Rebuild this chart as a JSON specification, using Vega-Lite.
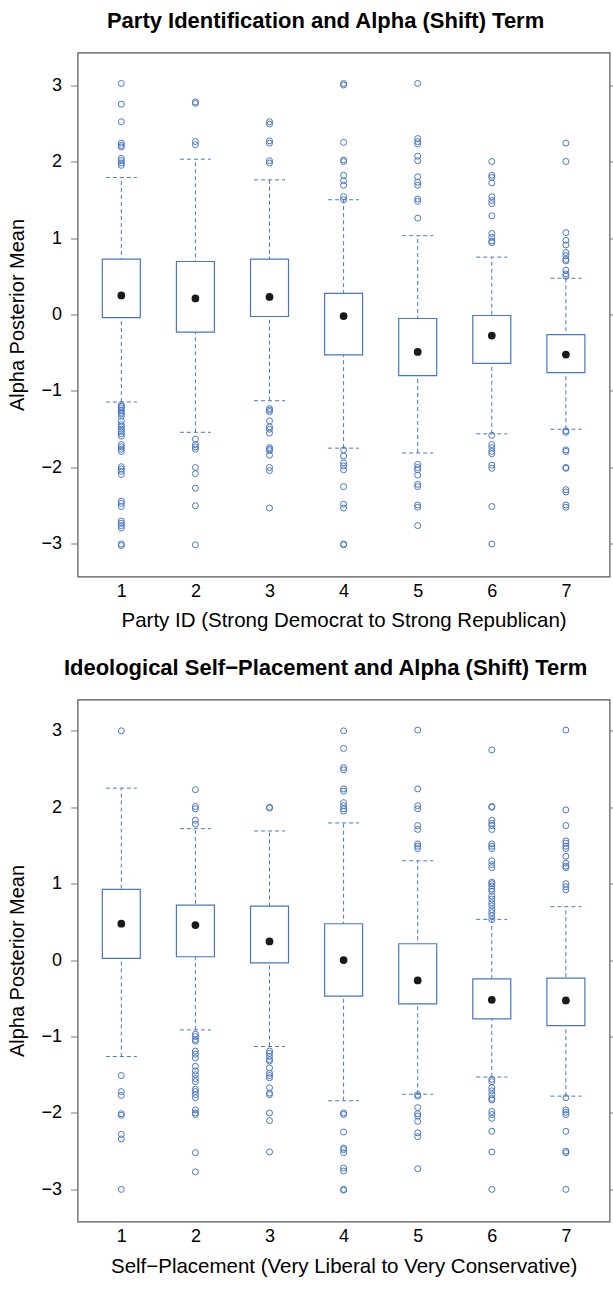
{
  "$schema": "https://vega.github.io/schema/vega-lite/v6.json",
  "padding": {"left": 6.6, "top": 8.5, "right": 0, "bottom": 0},
  "spacing": 24,
  "config": {
    "font": "Liberation Sans",
    "view": {"stroke": "#555555", "strokeWidth": 1.2},
    "axis": {"grid": false, "labelColor": "#000000", "titleColor": "#000000", "titleFontWeight": "normal"}
  },
  "datasets": {
    "party": [
      {"cat": 1, "lo": -1.144, "q1": -0.04, "med": 0.25, "q3": 0.724, "hi": 1.79},
      {"cat": 2, "lo": -1.54, "q1": -0.231, "med": 0.21, "q3": 0.693, "hi": 2.03},
      {"cat": 3, "lo": -1.127, "q1": -0.026, "med": 0.23, "q3": 0.724, "hi": 1.76},
      {"cat": 4, "lo": -1.747, "q1": -0.528, "med": -0.02, "q3": 0.276, "hi": 1.5},
      {"cat": 5, "lo": -1.81, "q1": -0.8, "med": -0.49, "q3": -0.052, "hi": 1.03},
      {"cat": 6, "lo": -1.56, "q1": -0.638, "med": -0.275, "q3": -0.013, "hi": 0.75},
      {"cat": 7, "lo": -1.5, "q1": -0.76, "med": -0.524, "q3": -0.262, "hi": 0.474}
    ],
    "party_out": [
      {"cat": 1, "v": 3.02}, {"cat": 1, "v": 2.75}, {"cat": 1, "v": 2.52}, {"cat": 1, "v": 2.24}, {"cat": 1, "v": 2.21}, {"cat": 1, "v": 2.19}, {"cat": 1, "v": 2.04}, {"cat": 1, "v": 2.01}, {"cat": 1, "v": 1.98}, {"cat": 1, "v": 1.95},
      {"cat": 1, "v": -1.18}, {"cat": 1, "v": -1.2}, {"cat": 1, "v": -1.22}, {"cat": 1, "v": -1.25}, {"cat": 1, "v": -1.28}, {"cat": 1, "v": -1.3}, {"cat": 1, "v": -1.33}, {"cat": 1, "v": -1.39}, {"cat": 1, "v": -1.44}, {"cat": 1, "v": -1.47}, {"cat": 1, "v": -1.5}, {"cat": 1, "v": -1.53}, {"cat": 1, "v": -1.56}, {"cat": 1, "v": -1.59}, {"cat": 1, "v": -1.7}, {"cat": 1, "v": -1.73}, {"cat": 1, "v": -1.76}, {"cat": 1, "v": -1.79}, {"cat": 1, "v": -1.99}, {"cat": 1, "v": -2.02}, {"cat": 1, "v": -2.05}, {"cat": 1, "v": -2.09}, {"cat": 1, "v": -2.44}, {"cat": 1, "v": -2.47}, {"cat": 1, "v": -2.51}, {"cat": 1, "v": -2.7}, {"cat": 1, "v": -2.73}, {"cat": 1, "v": -2.76}, {"cat": 1, "v": -2.79}, {"cat": 1, "v": -3.0}, {"cat": 1, "v": -3.02},
      {"cat": 2, "v": 2.78}, {"cat": 2, "v": 2.76}, {"cat": 2, "v": 2.26}, {"cat": 2, "v": 2.22}, {"cat": 2, "v": -1.63}, {"cat": 2, "v": -1.7}, {"cat": 2, "v": -1.73}, {"cat": 2, "v": -1.76}, {"cat": 2, "v": -2.0}, {"cat": 2, "v": -2.08}, {"cat": 2, "v": -2.27}, {"cat": 2, "v": -2.5}, {"cat": 2, "v": -3.01},
      {"cat": 3, "v": 2.52}, {"cat": 3, "v": 2.49}, {"cat": 3, "v": 2.27}, {"cat": 3, "v": 2.24}, {"cat": 3, "v": 2.01}, {"cat": 3, "v": 1.98}, {"cat": 3, "v": -1.23}, {"cat": 3, "v": -1.25}, {"cat": 3, "v": -1.27}, {"cat": 3, "v": -1.39}, {"cat": 3, "v": -1.47}, {"cat": 3, "v": -1.5}, {"cat": 3, "v": -1.55}, {"cat": 3, "v": -1.74}, {"cat": 3, "v": -1.76}, {"cat": 3, "v": -1.78}, {"cat": 3, "v": -1.84}, {"cat": 3, "v": -2.0}, {"cat": 3, "v": -2.04}, {"cat": 3, "v": -2.53},
      {"cat": 4, "v": 3.02}, {"cat": 4, "v": 3.0}, {"cat": 4, "v": 2.25}, {"cat": 4, "v": 2.02}, {"cat": 4, "v": 2.0}, {"cat": 4, "v": 1.82}, {"cat": 4, "v": 1.75}, {"cat": 4, "v": 1.69}, {"cat": 4, "v": 1.54}, {"cat": 4, "v": 1.5}, {"cat": 4, "v": -1.77}, {"cat": 4, "v": -1.85}, {"cat": 4, "v": -1.94}, {"cat": 4, "v": -1.98}, {"cat": 4, "v": -2.03}, {"cat": 4, "v": -2.25}, {"cat": 4, "v": -2.48}, {"cat": 4, "v": -2.53}, {"cat": 4, "v": -3.0}, {"cat": 4, "v": -3.01},
      {"cat": 5, "v": 3.02}, {"cat": 5, "v": 2.3}, {"cat": 5, "v": 2.26}, {"cat": 5, "v": 2.23}, {"cat": 5, "v": 2.07}, {"cat": 5, "v": 2.01}, {"cat": 5, "v": 1.8}, {"cat": 5, "v": 1.73}, {"cat": 5, "v": 1.69}, {"cat": 5, "v": 1.51}, {"cat": 5, "v": 1.48}, {"cat": 5, "v": 1.26}, {"cat": 5, "v": -1.96}, {"cat": 5, "v": -2.0}, {"cat": 5, "v": -2.03}, {"cat": 5, "v": -2.1}, {"cat": 5, "v": -2.22}, {"cat": 5, "v": -2.25}, {"cat": 5, "v": -2.49}, {"cat": 5, "v": -2.52}, {"cat": 5, "v": -2.76},
      {"cat": 6, "v": 2.0}, {"cat": 6, "v": 1.82}, {"cat": 6, "v": 1.79}, {"cat": 6, "v": 1.72}, {"cat": 6, "v": 1.54}, {"cat": 6, "v": 1.49}, {"cat": 6, "v": 1.45}, {"cat": 6, "v": 1.29}, {"cat": 6, "v": 1.06}, {"cat": 6, "v": 1.01}, {"cat": 6, "v": 0.96}, {"cat": 6, "v": 0.94}, {"cat": 6, "v": -1.58}, {"cat": 6, "v": -1.7}, {"cat": 6, "v": -1.74}, {"cat": 6, "v": -1.79}, {"cat": 6, "v": -1.82}, {"cat": 6, "v": -1.97}, {"cat": 6, "v": -2.01}, {"cat": 6, "v": -2.51}, {"cat": 6, "v": -3.0},
      {"cat": 7, "v": 2.24}, {"cat": 7, "v": 2.0}, {"cat": 7, "v": 1.07}, {"cat": 7, "v": 0.97}, {"cat": 7, "v": 0.91}, {"cat": 7, "v": 0.81}, {"cat": 7, "v": 0.77}, {"cat": 7, "v": 0.72}, {"cat": 7, "v": 0.7}, {"cat": 7, "v": 0.58}, {"cat": 7, "v": 0.53}, {"cat": 7, "v": 0.5}, {"cat": 7, "v": -1.52}, {"cat": 7, "v": -1.54}, {"cat": 7, "v": -1.77}, {"cat": 7, "v": -1.79}, {"cat": 7, "v": -2.0}, {"cat": 7, "v": -2.01}, {"cat": 7, "v": -2.29}, {"cat": 7, "v": -2.32}, {"cat": 7, "v": -2.49}, {"cat": 7, "v": -2.52}
    ],
    "ideo": [
      {"cat": 1, "lo": -1.262, "q1": 0.022, "med": 0.476, "q3": 0.926, "hi": 2.25},
      {"cat": 2, "lo": -0.913, "q1": 0.044, "med": 0.459, "q3": 0.72, "hi": 1.72},
      {"cat": 3, "lo": -1.13, "q1": -0.035, "med": 0.245, "q3": 0.707, "hi": 1.69},
      {"cat": 4, "lo": -1.84, "q1": -0.472, "med": 0.0, "q3": 0.476, "hi": 1.795},
      {"cat": 5, "lo": -1.755, "q1": -0.572, "med": -0.266, "q3": 0.214, "hi": 1.3},
      {"cat": 6, "lo": -1.53, "q1": -0.769, "med": -0.52, "q3": -0.245, "hi": 0.533},
      {"cat": 7, "lo": -1.78, "q1": -0.856, "med": -0.528, "q3": -0.236, "hi": 0.699}
    ],
    "ideo_out": [
      {"cat": 1, "v": 3.0}, {"cat": 1, "v": -1.51}, {"cat": 1, "v": -1.72}, {"cat": 1, "v": -1.77}, {"cat": 1, "v": -2.01}, {"cat": 1, "v": -2.03}, {"cat": 1, "v": -2.28}, {"cat": 1, "v": -2.34}, {"cat": 1, "v": -3.0},
      {"cat": 2, "v": 2.23}, {"cat": 2, "v": 2.01}, {"cat": 2, "v": 1.98}, {"cat": 2, "v": 1.83}, {"cat": 2, "v": 1.78}, {"cat": 2, "v": -0.97}, {"cat": 2, "v": -1.0}, {"cat": 2, "v": -1.04}, {"cat": 2, "v": -1.06}, {"cat": 2, "v": -1.19}, {"cat": 2, "v": -1.23}, {"cat": 2, "v": -1.28}, {"cat": 2, "v": -1.39}, {"cat": 2, "v": -1.45}, {"cat": 2, "v": -1.5}, {"cat": 2, "v": -1.55}, {"cat": 2, "v": -1.59}, {"cat": 2, "v": -1.69}, {"cat": 2, "v": -1.72}, {"cat": 2, "v": -1.76}, {"cat": 2, "v": -1.8}, {"cat": 2, "v": -1.96}, {"cat": 2, "v": -2.0}, {"cat": 2, "v": -2.02}, {"cat": 2, "v": -2.52}, {"cat": 2, "v": -2.77},
      {"cat": 3, "v": 2.0}, {"cat": 3, "v": 1.99}, {"cat": 3, "v": -1.19}, {"cat": 3, "v": -1.22}, {"cat": 3, "v": -1.26}, {"cat": 3, "v": -1.3}, {"cat": 3, "v": -1.32}, {"cat": 3, "v": -1.41}, {"cat": 3, "v": -1.48}, {"cat": 3, "v": -1.51}, {"cat": 3, "v": -1.54}, {"cat": 3, "v": -1.67}, {"cat": 3, "v": -1.74}, {"cat": 3, "v": -1.76}, {"cat": 3, "v": -2.0}, {"cat": 3, "v": -2.1}, {"cat": 3, "v": -2.51},
      {"cat": 4, "v": 3.0}, {"cat": 4, "v": 2.77}, {"cat": 4, "v": 2.52}, {"cat": 4, "v": 2.49}, {"cat": 4, "v": 2.24}, {"cat": 4, "v": 2.21}, {"cat": 4, "v": 2.06}, {"cat": 4, "v": 2.02}, {"cat": 4, "v": 1.98}, {"cat": 4, "v": 1.95}, {"cat": 4, "v": -2.0}, {"cat": 4, "v": -2.02}, {"cat": 4, "v": -2.25}, {"cat": 4, "v": -2.46}, {"cat": 4, "v": -2.48}, {"cat": 4, "v": -2.52}, {"cat": 4, "v": -2.72}, {"cat": 4, "v": -2.76}, {"cat": 4, "v": -3.0}, {"cat": 4, "v": -3.01},
      {"cat": 5, "v": 3.01}, {"cat": 5, "v": 2.24}, {"cat": 5, "v": 2.02}, {"cat": 5, "v": 1.98}, {"cat": 5, "v": 1.76}, {"cat": 5, "v": 1.71}, {"cat": 5, "v": 1.52}, {"cat": 5, "v": 1.49}, {"cat": 5, "v": 1.46}, {"cat": 5, "v": -1.76}, {"cat": 5, "v": -1.78}, {"cat": 5, "v": -1.93}, {"cat": 5, "v": -2.01}, {"cat": 5, "v": -2.04}, {"cat": 5, "v": -2.11}, {"cat": 5, "v": -2.26}, {"cat": 5, "v": -2.31}, {"cat": 5, "v": -2.73},
      {"cat": 6, "v": 2.75}, {"cat": 6, "v": 2.01}, {"cat": 6, "v": 2.0}, {"cat": 6, "v": 1.83}, {"cat": 6, "v": 1.79}, {"cat": 6, "v": 1.76}, {"cat": 6, "v": 1.71}, {"cat": 6, "v": 1.52}, {"cat": 6, "v": 1.49}, {"cat": 6, "v": 1.46}, {"cat": 6, "v": 1.3}, {"cat": 6, "v": 1.25}, {"cat": 6, "v": 1.21}, {"cat": 6, "v": 1.02}, {"cat": 6, "v": 1.0}, {"cat": 6, "v": 0.97}, {"cat": 6, "v": 0.93}, {"cat": 6, "v": 0.9}, {"cat": 6, "v": 0.84}, {"cat": 6, "v": 0.8}, {"cat": 6, "v": 0.75}, {"cat": 6, "v": 0.71}, {"cat": 6, "v": 0.66}, {"cat": 6, "v": 0.62}, {"cat": 6, "v": 0.58}, {"cat": 6, "v": 0.53}, {"cat": 6, "v": -1.56}, {"cat": 6, "v": -1.59}, {"cat": 6, "v": -1.67}, {"cat": 6, "v": -1.71}, {"cat": 6, "v": -1.76}, {"cat": 6, "v": -1.81}, {"cat": 6, "v": -1.83}, {"cat": 6, "v": -1.98}, {"cat": 6, "v": -2.02}, {"cat": 6, "v": -2.07}, {"cat": 6, "v": -2.24}, {"cat": 6, "v": -2.51}, {"cat": 6, "v": -3.0},
      {"cat": 7, "v": 3.01}, {"cat": 7, "v": 1.965}, {"cat": 7, "v": 1.76}, {"cat": 7, "v": 1.56}, {"cat": 7, "v": 1.53}, {"cat": 7, "v": 1.49}, {"cat": 7, "v": 1.46}, {"cat": 7, "v": 1.36}, {"cat": 7, "v": 1.27}, {"cat": 7, "v": 1.23}, {"cat": 7, "v": 1.21}, {"cat": 7, "v": 1.0}, {"cat": 7, "v": 0.96}, {"cat": 7, "v": 0.92}, {"cat": 7, "v": -1.8}, {"cat": 7, "v": -1.96}, {"cat": 7, "v": -1.99}, {"cat": 7, "v": -2.02}, {"cat": 7, "v": -2.24}, {"cat": 7, "v": -2.5}, {"cat": 7, "v": -2.52}, {"cat": 7, "v": -3.0}
    ]
  },
  "vconcat": [
    {
      "title": {"text": "Party Identification and Alpha (Shift) Term", "fontSize": 22, "fontWeight": "bold", "anchor": "middle", "dx": -18, "offset": 3, "baseline": "alphabetic", "color": "#000000"},
      "width": 532,
      "height": 524,
      "resolve": {"axis": {"y": "independent"}},
      "layer": [
        {
          "data": {"name": "party"},
          "mark": {"type": "rule", "color": "#4876c6", "strokeWidth": 1, "strokeDash": [4, 3]},
          "encoding": {
            "x": {"field": "cat", "type": "quantitative", "scale": {"domain": [0.41, 7.59], "nice": false, "zero": false}, "axis": {"values": [1, 2, 3, 4, 5, 6, 7], "format": "d", "ticks": false, "tickSize": 0, "domain": false, "labelFontSize": 18, "labelPadding": 6, "title": "Party ID (Strong Democrat to Strong Republican)", "titleFontSize": 20.5, "titleY": 50, "titleBaseline": "alphabetic"}},
            "y": {"field": "lo", "type": "quantitative", "scale": {"domain": [-3.425, 3.425], "nice": false, "zero": false}, "axis": {"values": [-3, -2, -1, 0, 1, 2, 3], "format": "d", "tickSize": 7, "tickColor": "#777777", "domain": false, "labelFontSize": 18, "labelPadding": 9, "title": "Alpha Posterior Mean", "titleFontSize": 20, "titleAngle": -90, "titleX": -54, "titleY": 262, "titleAlign": "center", "titleBaseline": "alphabetic"}},
            "y2": {"field": "hi"}
          }
        },
        {
          "data": {"name": "party"},
          "mark": {"type": "rule", "color": "#4876c6", "strokeWidth": 1, "strokeDash": [4, 3], "xOffset": -15.5, "x2Offset": 15.5},
          "encoding": {
            "x": {"field": "cat", "type": "quantitative", "scale": {"domain": [0.41, 7.59], "nice": false, "zero": false}, "axis": {"values": [1, 2, 3, 4, 5, 6, 7], "format": "d", "ticks": false, "tickSize": 0, "domain": false, "labelFontSize": 18, "labelPadding": 6, "title": "Party ID (Strong Democrat to Strong Republican)", "titleFontSize": 20.5, "titleY": 50, "titleBaseline": "alphabetic"}},
            "x2": {"field": "cat"},
            "y": {"field": "lo", "type": "quantitative", "axis": {"orient": "right", "values": [-3, -2, -1, 0, 1, 2, 3], "tickSize": 7, "tickColor": "#777777", "labels": false, "domain": false, "title": null}}
          }
        },
        {
          "data": {"name": "party"},
          "mark": {"type": "rule", "color": "#4876c6", "strokeWidth": 1, "strokeDash": [4, 3], "xOffset": -15.5, "x2Offset": 15.5},
          "encoding": {
            "x": {"field": "cat", "type": "quantitative", "scale": {"domain": [0.41, 7.59], "nice": false, "zero": false}, "axis": {"values": [1, 2, 3, 4, 5, 6, 7], "format": "d", "ticks": false, "tickSize": 0, "domain": false, "labelFontSize": 18, "labelPadding": 6, "title": "Party ID (Strong Democrat to Strong Republican)", "titleFontSize": 20.5, "titleY": 50, "titleBaseline": "alphabetic"}},
            "x2": {"field": "cat"},
            "y": {"field": "hi", "type": "quantitative", "axis": null}
          }
        },
        {
          "data": {"name": "party"},
          "mark": {"type": "rect", "fill": "#ffffff", "stroke": "#4876c6", "strokeWidth": 1.2, "xOffset": -19, "x2Offset": 19},
          "encoding": {
            "x": {"field": "cat", "type": "quantitative", "scale": {"domain": [0.41, 7.59], "nice": false, "zero": false}, "axis": {"values": [1, 2, 3, 4, 5, 6, 7], "format": "d", "ticks": false, "tickSize": 0, "domain": false, "labelFontSize": 18, "labelPadding": 6, "title": "Party ID (Strong Democrat to Strong Republican)", "titleFontSize": 20.5, "titleY": 50, "titleBaseline": "alphabetic"}},
            "x2": {"field": "cat"},
            "y": {"field": "q1", "type": "quantitative", "axis": null},
            "y2": {"field": "q3"}
          }
        },
        {
          "mark": {"type": "rule", "color": "#c8c8c8", "strokeWidth": 2},
          "encoding": {"y": {"datum": 0, "type": "quantitative", "axis": null}}
        },
        {
          "data": {"name": "party"},
          "mark": {"type": "point", "filled": true, "shape": "circle", "color": "#1a1a1a", "opacity": 1, "size": 60},
          "encoding": {
            "x": {"field": "cat", "type": "quantitative", "scale": {"domain": [0.41, 7.59], "nice": false, "zero": false}, "axis": {"values": [1, 2, 3, 4, 5, 6, 7], "format": "d", "ticks": false, "tickSize": 0, "domain": false, "labelFontSize": 18, "labelPadding": 6, "title": "Party ID (Strong Democrat to Strong Republican)", "titleFontSize": 20.5, "titleY": 50, "titleBaseline": "alphabetic"}},
            "y": {"field": "med", "type": "quantitative", "axis": null}
          }
        },
        {
          "data": {"name": "party_out"},
          "mark": {"type": "point", "filled": false, "shape": "circle", "color": "#4876c6", "opacity": 1, "strokeWidth": 1, "size": 36},
          "encoding": {
            "x": {"field": "cat", "type": "quantitative", "scale": {"domain": [0.41, 7.59], "nice": false, "zero": false}, "axis": {"values": [1, 2, 3, 4, 5, 6, 7], "format": "d", "ticks": false, "tickSize": 0, "domain": false, "labelFontSize": 18, "labelPadding": 6, "title": "Party ID (Strong Democrat to Strong Republican)", "titleFontSize": 20.5, "titleY": 50, "titleBaseline": "alphabetic"}},
            "y": {"field": "v", "type": "quantitative", "axis": null}
          }
        }
      ]
    },
    {
      "title": {"text": "Ideological Self−Placement and Alpha (Shift) Term", "fontSize": 22, "fontWeight": "bold", "anchor": "middle", "dx": -18, "offset": 2, "baseline": "alphabetic", "color": "#000000"},
      "width": 532,
      "height": 522,
      "resolve": {"axis": {"y": "independent"}},
      "layer": [
        {
          "data": {"name": "ideo"},
          "mark": {"type": "rule", "color": "#4876c6", "strokeWidth": 1, "strokeDash": [4, 3]},
          "encoding": {
            "x": {"field": "cat", "type": "quantitative", "scale": {"domain": [0.41, 7.59], "nice": false, "zero": false}, "axis": {"values": [1, 2, 3, 4, 5, 6, 7], "format": "d", "ticks": false, "tickSize": 0, "domain": false, "labelFontSize": 18, "labelPadding": 6, "title": "Self−Placement (Very Liberal to Very Conservative)", "titleFontSize": 20.5, "titleY": 51, "titleBaseline": "alphabetic"}},
            "y": {"field": "lo", "type": "quantitative", "scale": {"domain": [-3.42, 3.41], "nice": false, "zero": false}, "axis": {"values": [-3, -2, -1, 0, 1, 2, 3], "format": "d", "tickSize": 7, "tickColor": "#777777", "domain": false, "labelFontSize": 18, "labelPadding": 9, "title": "Alpha Posterior Mean", "titleFontSize": 20, "titleAngle": -90, "titleX": -54, "titleY": 261, "titleAlign": "center", "titleBaseline": "alphabetic"}},
            "y2": {"field": "hi"}
          }
        },
        {
          "data": {"name": "ideo"},
          "mark": {"type": "rule", "color": "#4876c6", "strokeWidth": 1, "strokeDash": [4, 3], "xOffset": -15.5, "x2Offset": 15.5},
          "encoding": {
            "x": {"field": "cat", "type": "quantitative", "scale": {"domain": [0.41, 7.59], "nice": false, "zero": false}, "axis": {"values": [1, 2, 3, 4, 5, 6, 7], "format": "d", "ticks": false, "tickSize": 0, "domain": false, "labelFontSize": 18, "labelPadding": 6, "title": "Self−Placement (Very Liberal to Very Conservative)", "titleFontSize": 20.5, "titleY": 51, "titleBaseline": "alphabetic"}},
            "x2": {"field": "cat"},
            "y": {"field": "lo", "type": "quantitative", "axis": {"orient": "right", "values": [-3, -2, -1, 0, 1, 2, 3], "tickSize": 7, "tickColor": "#777777", "labels": false, "domain": false, "title": null}}
          }
        },
        {
          "data": {"name": "ideo"},
          "mark": {"type": "rule", "color": "#4876c6", "strokeWidth": 1, "strokeDash": [4, 3], "xOffset": -15.5, "x2Offset": 15.5},
          "encoding": {
            "x": {"field": "cat", "type": "quantitative", "scale": {"domain": [0.41, 7.59], "nice": false, "zero": false}, "axis": {"values": [1, 2, 3, 4, 5, 6, 7], "format": "d", "ticks": false, "tickSize": 0, "domain": false, "labelFontSize": 18, "labelPadding": 6, "title": "Self−Placement (Very Liberal to Very Conservative)", "titleFontSize": 20.5, "titleY": 51, "titleBaseline": "alphabetic"}},
            "x2": {"field": "cat"},
            "y": {"field": "hi", "type": "quantitative", "axis": null}
          }
        },
        {
          "data": {"name": "ideo"},
          "mark": {"type": "rect", "fill": "#ffffff", "stroke": "#4876c6", "strokeWidth": 1.2, "xOffset": -19, "x2Offset": 19},
          "encoding": {
            "x": {"field": "cat", "type": "quantitative", "scale": {"domain": [0.41, 7.59], "nice": false, "zero": false}, "axis": {"values": [1, 2, 3, 4, 5, 6, 7], "format": "d", "ticks": false, "tickSize": 0, "domain": false, "labelFontSize": 18, "labelPadding": 6, "title": "Self−Placement (Very Liberal to Very Conservative)", "titleFontSize": 20.5, "titleY": 51, "titleBaseline": "alphabetic"}},
            "x2": {"field": "cat"},
            "y": {"field": "q1", "type": "quantitative", "axis": null},
            "y2": {"field": "q3"}
          }
        },
        {
          "mark": {"type": "rule", "color": "#c8c8c8", "strokeWidth": 2},
          "encoding": {"y": {"datum": 0, "type": "quantitative", "axis": null}}
        },
        {
          "data": {"name": "ideo"},
          "mark": {"type": "point", "filled": true, "shape": "circle", "color": "#1a1a1a", "opacity": 1, "size": 60},
          "encoding": {
            "x": {"field": "cat", "type": "quantitative", "scale": {"domain": [0.41, 7.59], "nice": false, "zero": false}, "axis": {"values": [1, 2, 3, 4, 5, 6, 7], "format": "d", "ticks": false, "tickSize": 0, "domain": false, "labelFontSize": 18, "labelPadding": 6, "title": "Self−Placement (Very Liberal to Very Conservative)", "titleFontSize": 20.5, "titleY": 51, "titleBaseline": "alphabetic"}},
            "y": {"field": "med", "type": "quantitative", "axis": null}
          }
        },
        {
          "data": {"name": "ideo_out"},
          "mark": {"type": "point", "filled": false, "shape": "circle", "color": "#4876c6", "opacity": 1, "strokeWidth": 1, "size": 36},
          "encoding": {
            "x": {"field": "cat", "type": "quantitative", "scale": {"domain": [0.41, 7.59], "nice": false, "zero": false}, "axis": {"values": [1, 2, 3, 4, 5, 6, 7], "format": "d", "ticks": false, "tickSize": 0, "domain": false, "labelFontSize": 18, "labelPadding": 6, "title": "Self−Placement (Very Liberal to Very Conservative)", "titleFontSize": 20.5, "titleY": 51, "titleBaseline": "alphabetic"}},
            "y": {"field": "v", "type": "quantitative", "axis": null}
          }
        }
      ]
    }
  ]
}
